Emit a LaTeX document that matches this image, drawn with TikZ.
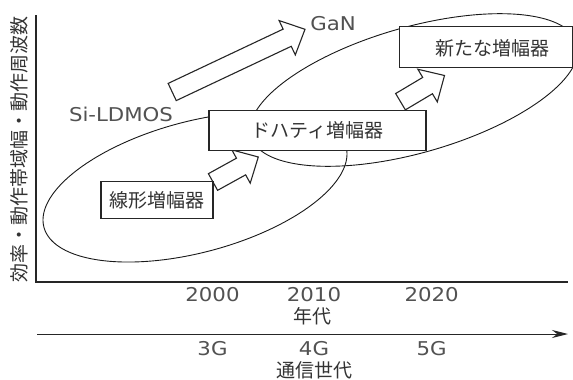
\documentclass[tikz,border=0pt]{standalone}
\usepackage{fontspec}
\newfontfamily\jpf{Noto Sans CJK JP}
\newfontfamily\latf[FakeStretch=1.12]{DejaVu Sans}
\usetikzlibrary{calc,arrows.meta}
\newcommand\myblockarrow[2]{%
  \coordinate (hb) at ($(#2)!19.7pt!(#1)$);
  \draw[blockarr] ($(#1)!9.5pt!90:(#2)$) -- ($(hb)!9.5pt!90:(#2)$) -- ($(hb)!19pt!90:(#2)$) -- (#2)
    -- ($(hb)!19pt!-90:(#2)$) -- ($(hb)!9.5pt!-90:(#2)$) -- ($(#1)!9.5pt!-90:(#2)$) -- cycle;}
\tikzset{
  txt/.style={text=black!80, inner sep=0pt},
  jp/.style={txt, font=\jpf\fontsize{19}{22}\selectfont},
  lat/.style={txt, text=black!68, font=\latf\fontsize{19}{22}\selectfont},
  boxnode/.style={draw=black!85, line width=1.1pt, fill=white, text=black!80, inner sep=0pt,
    font=\jpf\fontsize{19}{22}\selectfont},
  blockarr/.style={draw=black!85, line width=1.1pt, fill=white, line join=miter},
  ell/.style={draw=black!90, line width=0.9pt},
  axis/.style={draw=black!85, line width=1.1pt}
}
\begin{document}
\begin{tikzpicture}[x=1pt,y=-1pt]
\useasboundingbox (0,0) rectangle (573,380);
\fill[white] (0,0) rectangle (573,380);
% axes
\coordinate (ytop) at (36,15);
\coordinate (orig) at (36,282);
\coordinate (xend) at (568,282);
\draw[axis] (ytop) -- (orig) -- (xend);
\node[jp, rotate=90] (ylab) at (19.5,149) {効率・動作帯域幅・動作周波数};
% ellipses
\draw[ell] plot[domain=0:360, samples=200] ({195+152*cos(\x)}, {187-33*cos(\x)+67.4*sin(\x)}) -- cycle;
\draw[ell] plot[domain=0:360, samples=200] ({414+164*cos(\x)}, {90-40*cos(\x)+65*sin(\x)}) -- cycle;
% block arrows
\coordinate (t1) at (172.2,92);  \coordinate (p1) at (305,29.3);
\coordinate (t2) at (213,182);   \coordinate (p2) at (258.3,157);
\coordinate (t3) at (400.5,101.7); \coordinate (p3) at (444.5,75.5);
\myblockarrow{t1}{p1}
\myblockarrow{t2}{p2}
\myblockarrow{t3}{p3}
% boxes
\node[boxnode, minimum width=112pt, minimum height=36.5pt] (lin) at (157,200) {線形増幅器};
\node[boxnode, minimum width=217pt, minimum height=39.5pt] (doh) at (317.5,130.5) {ドハティ増幅器};
\node[boxnode, minimum width=173pt, minimum height=41.5pt] (newb) at (485.8,47) {};
\node[jp] (newt) at (492,48) {新たな増幅器};
% labels
\node[lat] (si) at (121,114) {Si-LDMOS};
\node[lat] (gan) at (333,23.5) {GaN};
\node[lat] (y2000) at (212.5,295) {2000};
\node[lat] (y2010) at (314,295) {2010};
\node[lat] (y2020) at (431.7,295) {2020};
\node[jp] (nendai) at (312.5,316.5) {年代};
\coordinate (gs) at (37,334);
\coordinate (ge) at (568,334);
\draw[axis, line width=1pt, -{Stealth[length=16pt,width=8pt]}] (gs) -- (ge);
\node[lat] (g3) at (212.5,348.5) {3G};
\node[lat] (g4) at (314,348.5) {4G};
\node[lat] (g5) at (431.7,348.5) {5G};
\node[jp] (tsushin) at (314,370) {通信世代};
\end{tikzpicture}
\end{document}
